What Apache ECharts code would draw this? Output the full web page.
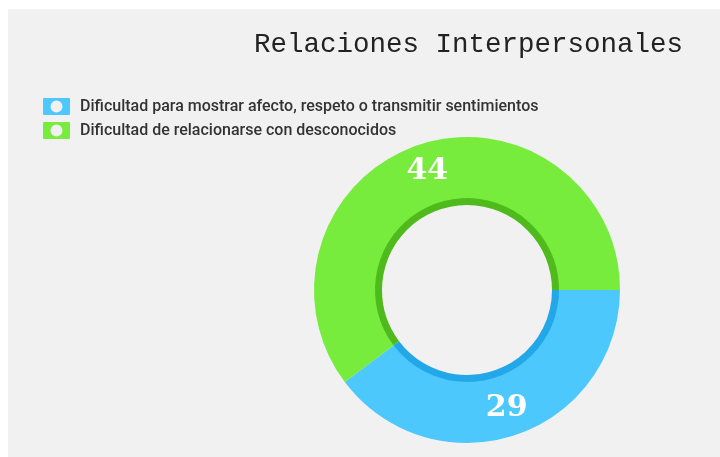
<!DOCTYPE html>
<html>
<head>
<meta charset="utf-8">
<script src="https://cdn.jsdelivr.net/npm/echarts@6/dist/echarts.min.js"></script>
<style>
  html, body { margin: 0; padding: 0; background: #fff; }
  #chart { width: 720px; height: 457px; }
</style>
</head>
<body>
<div id="chart"></div>
<script>
// datos
var categories = ['Dificultad para mostrar afecto, respeto o transmitir sentimientos', 'Dificultad de relacionarse con desconocidos'];
var values = [29, 44];
var colors = ['#4dc8fd', '#78ec3d'];
var darkColors = ['#22a7e8', '#4fba1c'];

var chart = echarts.init(document.getElementById('chart'));

var mainData = categories.map(function (name, i) {
  return { name: name, value: values[i], itemStyle: { color: colors[i] } };
});
var ringData = categories.map(function (name, i) {
  return { name: name, value: values[i], itemStyle: { color: darkColors[i] } };
});

// icono de la leyenda: cuadrado con círculo
var legendIcon = 'path://M1,0 H26 A1,1 0 0 1 27,1 V16 A1,1 0 0 1 26,17 H1 A1,1 0 0 1 0,16 V1 A1,1 0 0 1 1,0 Z M13.5,2.5 A6,6 0 1 0 13.5,14.5 A6,6 0 1 0 13.5,2.5 Z';

chart.setOption({
  backgroundColor: '#ffffff',
  animation: false,
  graphic: [{
    type: 'rect',
    z: -10,
    shape: { x: 8, y: 9, width: 712, height: 448 },
    style: { fill: '#f1f1f1' }
  }],
  title: {
    text: 'Relaciones Interpersonales',
    right: 32,
    top: 26,
    textStyle: {
      fontFamily: 'Liberation Mono',
      fontSize: 27.5,
      fontWeight: 'normal',
      color: '#222'
    }
  },
  legend: {
    orient: 'vertical',
    left: 38,
    top: 93,
    itemWidth: 27,
    itemHeight: 17,
    itemGap: 7,
    icon: legendIcon,
    selectedMode: false,
    data: categories,
    textStyle: {
      fontFamily: 'Roboto',
      fontSize: 16,
      fontWeight: 500,
      color: '#333',
      padding: [0, 0, 0, 5]
    }
  },
  series: [{
    type: 'pie',
    center: [467, 290],
    radius: [91, 153],
    startAngle: 0,
    clockwise: true,
    silent: true,
    label: {
      show: true,
      position: 'inside',
      formatter: '{c}',
      fontFamily: 'DejaVu Serif',
      fontWeight: 'bold',
      fontSize: 30,
      color: '#fff'
    },
    labelLine: { show: false },
    data: mainData
  }, {
    type: 'pie',
    center: [467, 290],
    radius: [85, 92],
    startAngle: 0,
    clockwise: true,
    silent: true,
    label: { show: false },
    labelLine: { show: false },
    legendHoverLink: false,
    data: ringData
  }]
});
</script>
</body>
</html>
